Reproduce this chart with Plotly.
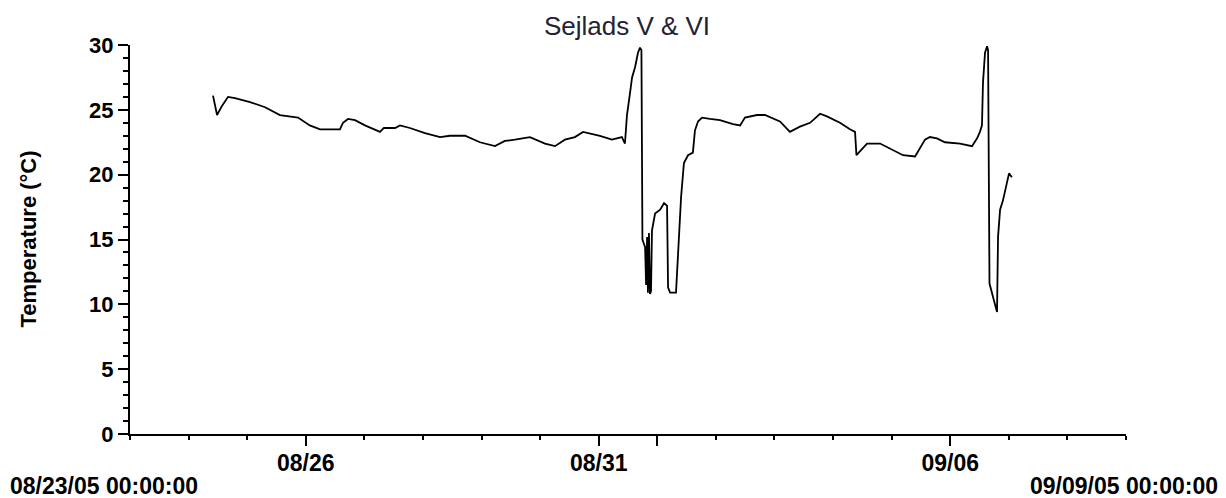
import plotly.graph_objects as go

# ---- data ----
times = [
    "2005-08-24 10:00", "2005-08-24 11:40", "2005-08-24 13:40", "2005-08-24 16:10", "2005-08-24 19:00",
    "2005-08-25 01:10", "2005-08-25 07:20", "2005-08-25 13:25", "2005-08-25 20:50", "2005-08-26 01:40",
    "2005-08-26 05:50", "2005-08-26 14:00", "2005-08-26 15:15", "2005-08-26 17:20", "2005-08-26 20:10",
    "2005-08-27 00:15", "2005-08-27 06:25", "2005-08-27 08:00", "2005-08-27 12:35", "2005-08-27 14:35",
    "2005-08-27 18:40", "2005-08-28 00:50", "2005-08-28 07:00", "2005-08-28 11:05", "2005-08-28 17:15",
    "2005-08-28 23:20", "2005-08-29 05:30", "2005-08-29 09:35", "2005-08-29 13:40", "2005-08-29 19:50",
    "2005-08-30 02:00", "2005-08-30 06:05", "2005-08-30 10:10", "2005-08-30 14:15", "2005-08-30 17:35",
    "2005-08-31 00:30", "2005-08-31 05:25", "2005-08-31 09:30", "2005-08-31 10:45", "2005-08-31 11:35",
    "2005-08-31 12:50", "2005-08-31 13:40", "2005-08-31 14:55", "2005-08-31 16:05", "2005-08-31 16:55",
    "2005-08-31 17:30", "2005-08-31 17:55", "2005-08-31 19:00", "2005-08-31 19:25", "2005-08-31 19:50",
    "2005-08-31 20:10", "2005-08-31 20:35", "2005-08-31 21:00", "2005-08-31 21:25", "2005-08-31 21:50",
    "2005-08-31 23:05", "2005-09-01 01:10", "2005-09-01 02:45", "2005-09-01 04:00", "2005-09-01 04:25",
    "2005-09-01 05:15", "2005-09-01 07:40", "2005-09-01 08:05", "2005-09-01 08:55", "2005-09-01 09:45",
    "2005-09-01 10:55", "2005-09-01 12:35", "2005-09-01 14:35", "2005-09-01 15:25", "2005-09-01 16:40",
    "2005-09-01 18:20", "2005-09-01 21:35", "2005-09-02 01:40", "2005-09-02 07:00", "2005-09-02 09:55",
    "2005-09-02 11:55", "2005-09-02 16:50", "2005-09-02 20:05", "2005-09-03 02:15", "2005-09-03 06:20",
    "2005-09-03 10:25", "2005-09-03 14:35", "2005-09-03 18:40", "2005-09-03 21:30", "2005-09-04 02:50",
    "2005-09-04 06:55", "2005-09-04 09:00", "2005-09-04 09:35", "2005-09-04 11:05", "2005-09-04 13:55",
    "2005-09-04 19:15", "2005-09-04 23:20", "2005-09-05 04:40", "2005-09-05 09:35", "2005-09-05 10:50",
    "2005-09-05 13:40", "2005-09-05 15:40", "2005-09-05 18:35", "2005-09-05 21:50", "2005-09-06 04:00",
    "2005-09-06 08:55", "2005-09-06 11:00", "2005-09-06 12:10", "2005-09-06 13:00", "2005-09-06 13:25",
    "2005-09-06 14:15", "2005-09-06 15:05", "2005-09-06 15:30", "2005-09-06 16:05", "2005-09-06 17:05",
    "2005-09-06 18:20", "2005-09-06 19:10", "2005-09-06 19:35", "2005-09-06 20:25", "2005-09-06 21:35",
    "2005-09-06 22:50", "2005-09-07 00:05", "2005-09-07 01:15",
]
temperature = [
    26.1, 24.6, 25.3, 26.0, 25.9,
    25.6, 25.2, 24.6, 24.4, 23.8,
    23.5, 23.5, 24.0, 24.3, 24.2,
    23.8, 23.3, 23.6, 23.6, 23.8,
    23.6, 23.2, 22.9, 23.0, 23.0,
    22.5, 22.2, 22.6, 22.7, 22.9,
    22.4, 22.2, 22.7, 22.9, 23.3,
    23.0, 22.7, 22.9, 22.4, 24.6,
    26.3, 27.5, 28.3, 29.4, 29.8,
    29.6, 15.0, 14.4, 11.5, 15.2,
    10.9, 15.5, 10.8, 11.0, 15.7,
    17.0, 17.3, 17.8, 17.6, 11.3,
    10.9, 10.9, 12.4, 15.2, 18.3,
    20.9, 21.5, 21.7, 23.4, 24.1,
    24.4, 24.3, 24.2, 23.9, 23.8,
    24.4, 24.6, 24.6, 24.1, 23.3,
    23.7, 24.0, 24.7, 24.5, 24.0,
    23.5, 23.3, 21.5, 21.8, 22.4,
    22.4, 22.0, 21.5, 21.4, 21.8,
    22.7, 22.9, 22.8, 22.5, 22.4,
    22.2, 22.8, 23.3, 23.8, 27.1,
    29.4, 29.9, 29.6, 11.6, 10.9,
    10.1, 9.4, 15.2, 17.3, 18.0,
    19.0, 20.1, 19.8,
]

x_range = ["2005-08-23 00:00", "2005-09-09 00:00"]
x_major_vals = ["2005-08-26", "2005-08-31", "2005-09-01", "2005-09-06"]
x_major_text = ["08/26", "08/31", "", "09/06"]
y_major_vals = [0, 5, 10, 15, 20, 25, 30]
title_text = "Sejlads V & VI"
y_title = "Temperature (°C)"
start_label = "08/23/05 00:00:00"
end_label = "09/09/05 00:00:00"

FONT = "Arial, 'Liberation Sans', sans-serif"

fig = go.Figure()
fig.add_trace(go.Scatter(
    x=times, y=temperature, mode="lines",
    line=dict(color="#000000", width=1.8),
    showlegend=False, hoverinfo="skip",
))

fig.update_layout(
    width=1226, height=498,
    margin=dict(l=130, r=100, t=45, b=64),
    paper_bgcolor="white", plot_bgcolor="white",
    title=dict(text=title_text, x=(627 / 1226), xanchor="center", y=1 - 26 / 498, yanchor="middle",
               font=dict(family=FONT, size=26, color="#222233")),
    font=dict(family=FONT, color="#000000"),
)

fig.update_xaxes(
    type="date", range=x_range, showgrid=False, zeroline=False,
    showline=True, linecolor="#000000", linewidth=2,
    tickmode="array", tickvals=x_major_vals, ticktext=x_major_text,
    ticks="outside", ticklen=10, tickwidth=2, tickcolor="#000000",
    ticklabelstandoff=-3,
    tickfont=dict(family=FONT, size=23, color="#000000", weight="bold"),
    minor=dict(dtick=86400000, tick0="2005-08-23", ticks="outside", ticklen=4,
               tickwidth=2, tickcolor="#000000", showgrid=False),
)
fig.update_yaxes(
    range=[0, 30], showgrid=False, zeroline=False,
    showline=True, linecolor="#000000", linewidth=2,
    tickmode="array", tickvals=y_major_vals,
    ticks="outside", ticklen=10, tickwidth=2, tickcolor="#000000",
    tickfont=dict(family=FONT, size=22, color="#000000", weight="bold"),
    minor=dict(dtick=1, tick0=0, ticks="outside", ticklen=5,
               tickwidth=2, tickcolor="#000000", showgrid=False),
)

fig.add_annotation(text=y_title, xref="paper", yref="paper",
                   x=(28 - 130) / 996, y=0.5, xanchor="center", yanchor="middle",
                   textangle=-90, showarrow=False,
                   font=dict(family=FONT, size=22, color="#000000", weight="bold"))
fig.add_annotation(text=start_label, xref="paper", yref="paper",
                   x=(104 - 130) / 996, y=(434 - 486) / 389, xanchor="center", yanchor="middle",
                   showarrow=False,
                   font=dict(family=FONT, size=23, color="#000000", weight="bold"))
fig.add_annotation(text=end_label, xref="paper", yref="paper",
                   x=(1124 - 130) / 996, y=(434 - 486) / 389, xanchor="center", yanchor="middle",
                   showarrow=False,
                   font=dict(family=FONT, size=23, color="#000000", weight="bold"))

fig.write_html("out.html", config={"displayModeBar": False},
               post_script="document.body.style.margin='0';document.body.style.overflow='hidden';")
